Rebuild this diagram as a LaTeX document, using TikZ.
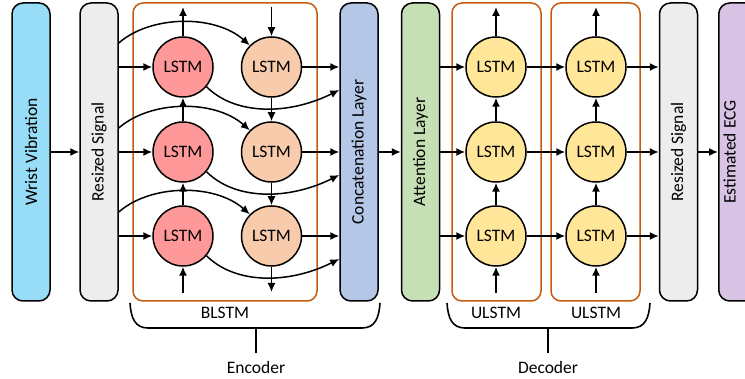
\documentclass[tikz,border=0pt]{standalone}
\usepackage{fontspec}
\setmainfont{Carlito}
\usetikzlibrary{arrows.meta,calc}

\definecolor{cwrist}{HTML}{97DDF8}
\definecolor{cgrey}{HTML}{EDEDED}
\definecolor{cred}{HTML}{FF9999}
\definecolor{cpeach}{HTML}{F8CBAD}
\definecolor{cconcat}{HTML}{B4C7E7}
\definecolor{catt}{HTML}{C5E0B4}
\definecolor{cyellow}{HTML}{FFE699}
\definecolor{cpurple}{HTML}{D9C3E5}
\definecolor{cframe}{HTML}{C55A11}

\begin{document}
\begin{tikzpicture}[x=1pt,y=-1pt,
  font=\fontsize{17.5}{20}\selectfont,
  layer/.style={draw=black, line width=1.5pt, rounded corners=11pt,
    minimum width=38pt, minimum height=298pt, inner sep=0pt},
  cell/.style={circle, draw=black, line width=1.5pt, minimum size=60pt, inner sep=0pt},
  group/.style={draw=cframe, line width=1.5pt, rounded corners=10pt},
  arr/.style={-{Latex[length=9pt,width=8pt]}, line width=1.5pt},
  brace/.style={line width=1.6pt}]
\useasboundingbox (0,0) rectangle (745,379);

% layer columns
\node[layer, fill=cwrist] (wv) at (31,152) {\rotatebox{90}{Wrist Vibration}};
\node[layer, fill=cgrey] (rs1) at (99,152) {\rotatebox{90}{Resized Signal}};
\node[layer, fill=cconcat] (concat) at (359,152) {\rotatebox{90}{Concatenation Layer}};
\node[layer, fill=catt] (att) at (420.5,152) {\rotatebox{90}{Attention Layer}};
\node[layer, fill=cgrey] (rs2) at (678.5,152) {\rotatebox{90}{Resized Signal}};
\begin{scope}
  \clip (0,0) rectangle (745,379);
  \node[layer, fill=cpurple, minimum width=60pt, anchor=west] (ecg) at (718,152) {};
\end{scope}
\node (ecgtext) at (729.5,152) {\rotatebox{90}{Estimated ECG}};

% BLSTM and ULSTM frames
\draw[group] (133,3) rectangle (317,301);
\draw[group] (452,3) rectangle (541,301);
\draw[group] (551,3) rectangle (640,301);

% LSTM cells
\foreach \i/\y in {1/67,2/152,3/236} {
  \node[cell, fill=cred] (r\i) at (183,\y) {LSTM};
  \node[cell, fill=cpeach] (o\i) at (271.5,\y) {LSTM};
  \node[cell, fill=cyellow] (a\i) at (496,\y) {LSTM};
  \node[cell, fill=cyellow] (b\i) at (596,\y) {LSTM};
}

% encoder connections
\foreach \i in {1,2,3} {
  \draw[arr] (rs1.east |- r\i) -- (r\i);
  \coordinate (s\i) at ($(rs1.east |- r\i)+(0,-24)$);
  \draw[arr] (s\i) .. controls +(32,-28) and +(-35,-31) .. (o\i.135);
  \draw[arr] (o\i) -- (concat.west |- o\i);
  \coordinate (c\i) at ($(concat.west |- r\i)+(0,23)$);
  \draw[arr] (r\i.-40) .. controls +(29,29) and +(-50,25) .. (c\i);
  \draw[arr] (att.east |- a\i) -- (a\i);
  \draw[arr] (a\i) -- (b\i);
  \draw[arr] (b\i) -- (rs2.west |- b\i);
}

% forward (upward) and backward (downward) chains
\draw[arr] (r1.north) -- (r1.north |- 0,7);
\draw[arr] (r2) -- (r1);
\draw[arr] (r3) -- (r2);
\draw[arr] (r3.south |- 0,293) -- (r3.south);
\draw[arr] (o1.north |- 0,7) -- (o1.north);
\draw[arr] (o1) -- (o2);
\draw[arr] (o2) -- (o3);
\draw[arr] (o3.south) -- (o3.south |- 0,292);
\foreach \c in {a,b} {
  \draw[arr] (\c1.north) -- (\c1.north |- 0,7);
  \draw[arr] (\c2) -- (\c1);
  \draw[arr] (\c3) -- (\c2);
  \draw[arr] (\c3.south |- 0,293) -- (\c3.south);
}

% main flow
\draw[arr] (wv) -- (rs1);
\draw[arr] (concat) -- (att);
\draw[arr] (rs2) -- (ecg.west);

% group labels
\node (lb) at (225,313) {BLSTM};
\node (lu1) at (496,313) {ULSTM};
\node (lu2) at (596,313) {ULSTM};

% brackets
\draw[brace] (130,303) .. controls (131,318) and (135,328) .. (148,328)
  -- (362,328) .. controls (375,328) and (379,318) .. (380,303);
\draw[brace] (256,328) -- (256,353);
\node (enc) at (256,367) {Encoder};
\draw[brace] (447,303) .. controls (448,318) and (452,328) .. (465,328)
  -- (632,328) .. controls (645,328) and (649,318) .. (650,303);
\draw[brace] (548,328) -- (548,353);
\node (dec) at (548,367) {Decoder};
\end{tikzpicture}
\end{document}
